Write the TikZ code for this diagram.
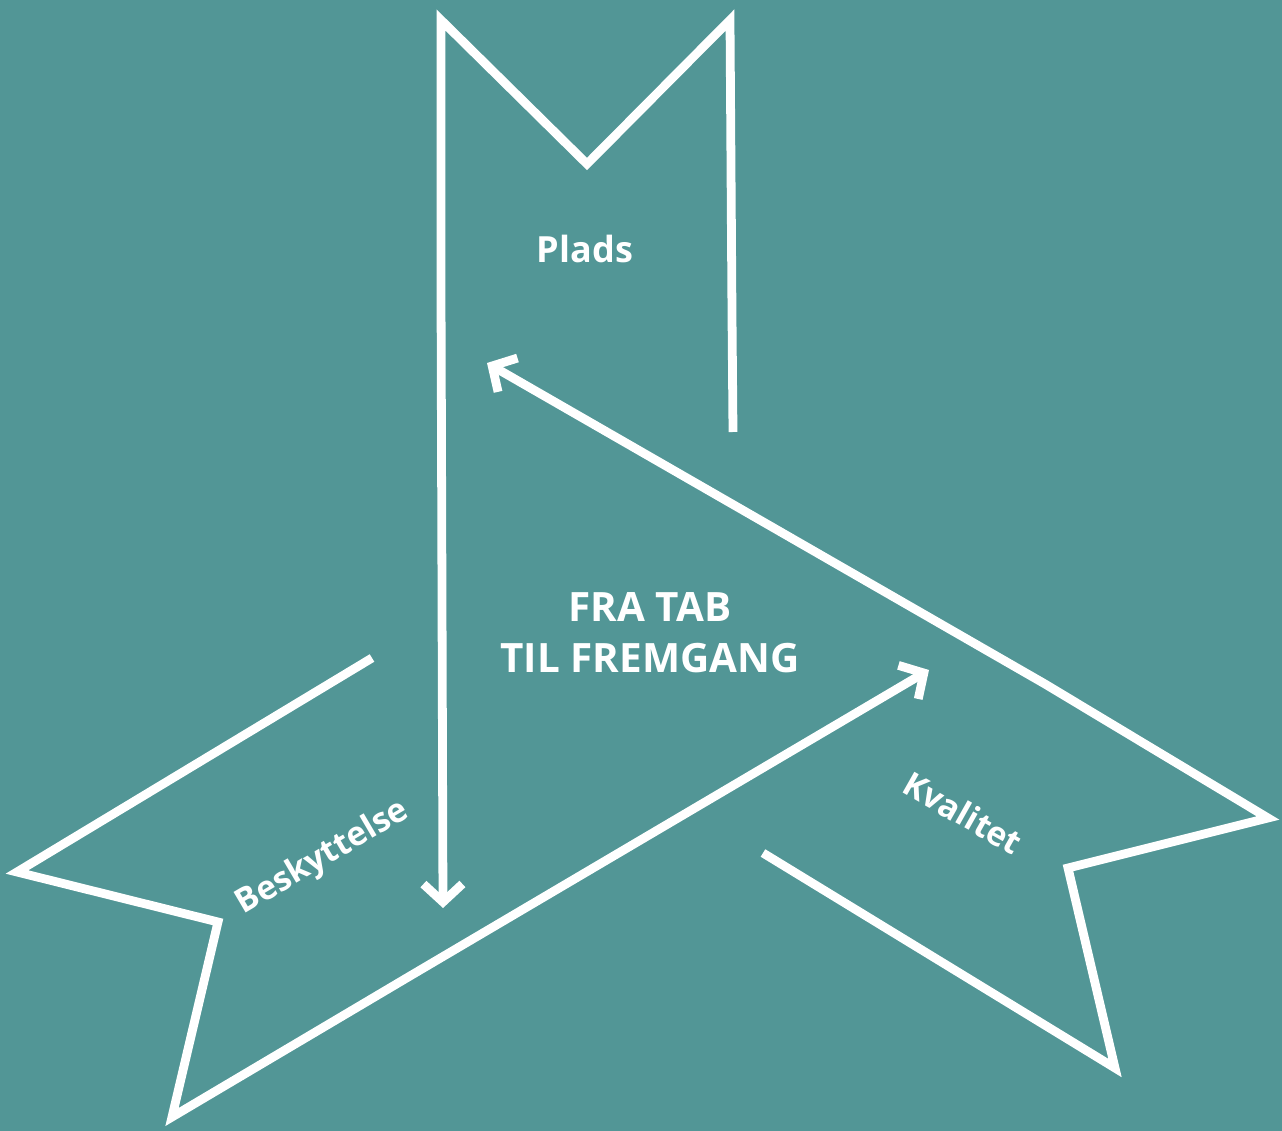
\documentclass[tikz,border=0pt]{standalone}
\usepackage{fontspec}
\setmainfont{Open Sans}
\usetikzlibrary{arrows.meta}
\definecolor{bgteal}{RGB}{82,150,150}
\begin{document}
\begin{tikzpicture}[x=0.02cm,y=-0.02cm,
  ribbon/.style={draw=white,line width=5pt,line join=miter,miter limit=10},
  arr/.style={-{Straight Barb[length=0.36cm,width=0.78cm,line join=miter]}},
  lbl/.style={text=white,font=\bfseries,inner sep=0pt}]
\fill[bgteal] (0,0) rectangle (1282,1131);
\useasboundingbox (0,0) rectangle (1282,1131);
% top ribbon (Plads)
\coordinate (p1) at (733,432);
\coordinate (p2) at (732,315);
\coordinate (p3) at (730,20);
\coordinate (p4) at (587,164);
\coordinate (p5) at (441,20);
\coordinate (p6) at (441,290);
\coordinate (p7) at (443,908);
\draw[ribbon,arr] (p1) -- (p2) -- (p3) -- (p4) -- (p5) -- (p6) -- (p7);
% right ribbon (Kvalitet)
\coordinate (k1) at (763,853);
\coordinate (k2) at (1115,1068);
\coordinate (k3) at (1068,868);
\coordinate (k4) at (1268,818);
\coordinate (k5) at (1045,684);
\coordinate (k6) at (487,363);
\draw[ribbon,arr] (k1) -- (k2) -- (k3) -- (k4) -- (k5) -- (k6);
% left ribbon (Beskyttelse)
\coordinate (b1) at (372,658);
\coordinate (b2) at (17,872);
\coordinate (b3) at (218,922);
\coordinate (b4) at (172,1117);
\coordinate (b5) at (410,976);
\coordinate (b6) at (929,670);
\draw[ribbon,arr] (b1) -- (b2) -- (b3) -- (b4) -- (b5) -- (b6);
% labels
\node[lbl,font=\bfseries\fontsize{20.5}{25}\selectfont] (plads) at (585,249) {Plads};
\node[lbl,font=\bfseries\fontsize{23}{29}\selectfont,align=center] (title) at (650,633) {FRA TAB\\TIL FREMGANG};
\node[lbl,font=\bfseries\fontsize{19}{23}\selectfont,rotate=30.5] (besk) at (323,858) {Beskyttelse};
\node[lbl,font=\bfseries\fontsize{19}{23}\selectfont,rotate=-29.5] (kval) at (963,813) {Kvalitet};
\end{tikzpicture}
\end{document}
